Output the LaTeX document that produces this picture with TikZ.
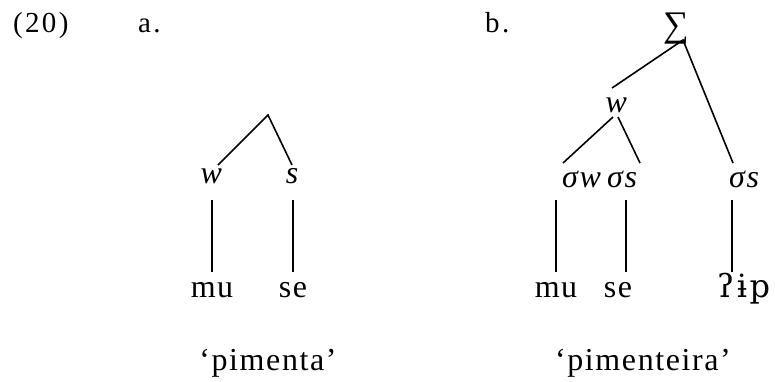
\documentclass[tikz,border=0pt]{standalone}
\usepackage{fontspec}
\setmainfont{Liberation Serif}
\newfontfamily\ipafont{DejaVu Serif}
\begin{document}
\begin{tikzpicture}[x=1pt,y=-1pt,
  lbl/.style={inner sep=0pt,anchor=base,font=\fontsize{32}{38}\selectfont\addfontfeatures{LetterSpace=5}},
  lblw/.style={lbl,anchor=base west},
  hd/.style={lblw,font=\fontsize{29}{34}\selectfont\addfontfeatures{LetterSpace=8}},
  br/.style={line width=1.6pt,line cap=butt}]
\useasboundingbox (0,0) rectangle (775,381);
% headings
\node[hd] (ex) at (13,32) {(20)};
\node[hd] (la) at (138,32) {a.};
\node[hd] (lb) at (485,32) {b.};
% tree a
\coordinate (apexA) at (268,115);
\node[lbl] (wA) at (212,183) {\textit{w}};
\node[lbl] (sA) at (293,183) {\textit{s}};
\coordinate (wAt) at (218,165);
\coordinate (sAt) at (292,165);
\coordinate (wAb) at (212,200);
\coordinate (sAb) at (293,200);
\coordinate (muAt) at (212,272);
\coordinate (seAt) at (293,272);
\node[lbl] (muA) at (212,297) {mu};
\node[lbl] (seA) at (293,297) {se};
\draw[br] (wAt) -- (apexA) -- (sAt);
\draw[br] (wAb) -- (muAt);
\draw[br] (sAb) -- (seAt);
\node[lbl] (glA) at (268,370) {‘pimenta’};
% tree b
\node[lbl,font=\fontsize{36}{40}\selectfont] (sig) at (676,36) {∑};
\coordinate (sigB) at (683,40);
\node[lbl] (wB) at (617,112) {\textit{w}};
\coordinate (wBt) at (612,88);
\coordinate (wBl) at (613,117);
\coordinate (wBr) at (618,117);
\node[lbl,anchor=base west] (swB) at (562,187) {\textit{σw}};
\node[lbl,anchor=base west] (ssB) at (607,187) {\textit{σs}};
\node[lbl,anchor=base west] (ss2B) at (729,187) {\textit{σs}};
\coordinate (swBt) at (563,163);
\coordinate (ssBt) at (640,163);
\coordinate (ss2Bt) at (733,163);
\coordinate (v1t) at (556,200);
\coordinate (v1b) at (556,272);
\coordinate (v2t) at (626,200);
\coordinate (v2b) at (626,272);
\coordinate (v3t) at (732,200);
\coordinate (v3b) at (732,272);
\draw[br] (wBt) -- (sigB) -- (ss2Bt);
\draw[br] (swBt) -- (wBl);
\draw[br] (wBr) -- (ssBt);
\draw[br] (v1t) -- (v1b);
\draw[br] (v2t) -- (v2b);
\draw[br] (v3t) -- (v3b);
\node[lbl] (muB) at (556,297) {mu};
\node[lbl] (seB) at (618,297) {se};
\node[lbl,anchor=base west] (ipB) at (717,297) {{\ipafont\addfontfeatures{LetterSpace=8}ʔɨp}};
\node[lbl] (glB) at (643,370) {‘pimenteira’};
\end{tikzpicture}
\end{document}
